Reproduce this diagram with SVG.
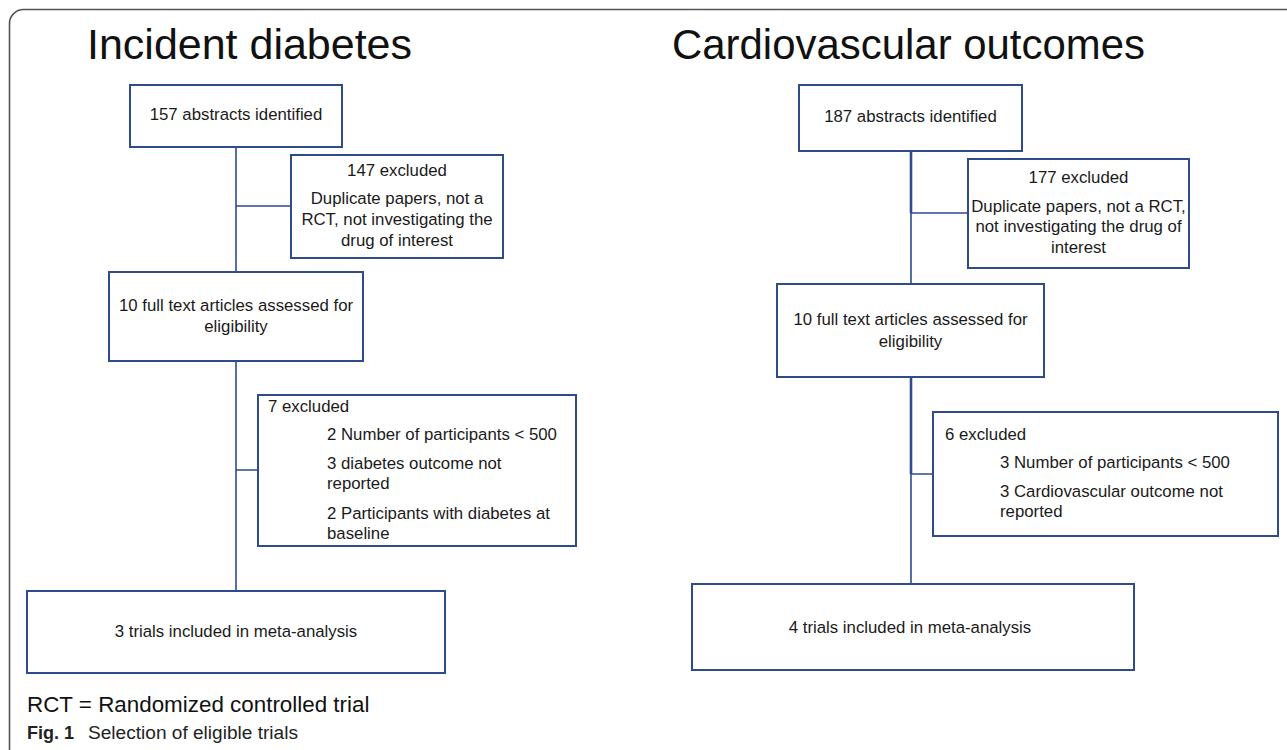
<svg xmlns="http://www.w3.org/2000/svg" width="1287" height="750" viewBox="0 0 1287 750">
<style>
.box{fill:#fff;stroke:#2F4B8C;stroke-width:2}
.ln{fill:none;stroke:#2F4B8C;stroke-width:1.6}
.thk{stroke-width:2.6}
.t{font-family:"Liberation Sans",Arial,sans-serif;font-size:16.8px;fill:#1a1a1a}
.c{text-anchor:middle}
.title{font-family:"Liberation Sans",Arial,sans-serif;font-size:43px;fill:#111}
</style>
<rect x="0" y="0" width="1287" height="750" fill="#fff"/>
<rect x="9.5" y="9.5" width="1300" height="780" rx="14" fill="none" stroke="#555" stroke-width="1.6"/>
<text class="title" x="87" y="59" textLength="325" lengthAdjust="spacingAndGlyphs">Incident diabetes</text>
<text class="title" x="672" y="59" textLength="473" lengthAdjust="spacingAndGlyphs">Cardiovascular outcomes</text>
<g id="connectors">
<path class="ln" d="M236 147V591M236 206H291M236 470H258"/>
<path class="ln thk" d="M911 151V213M911 377V474"/>
<path class="ln" d="M911 213V284M911 474V584M911 213H968M911 474H933"/>
</g>
<g id="l-abstracts">
<rect class="box" x="130" y="85" width="212" height="62"/>
<text class="t c" x="236" y="120">157 abstracts identified</text>
</g>
<g id="l-excluded1">
<rect class="box" x="291" y="155" width="212" height="103"/>
<text class="t c" x="397" y="176">147 excluded</text>
<text class="t c" x="397" y="204">Duplicate papers, not a</text>
<text class="t c" x="397" y="225">RCT, not investigating the</text>
<text class="t c" x="397" y="246">drug of interest</text>
</g>
<g id="l-fulltext">
<rect class="box" x="109" y="272" width="254" height="89"/>
<text class="t c" x="236" y="311">10 full text articles assessed for</text>
<text class="t c" x="236" y="332">eligibility</text>
</g>
<g id="l-excluded2">
<rect class="box" x="258" y="395" width="318" height="151"/>
<text class="t" x="268" y="412">7 excluded</text>
<text class="t" x="327" y="440">2 Number of participants &lt; 500</text>
<text class="t" x="327" y="469">3 diabetes outcome  not</text>
<text class="t" x="327" y="489">reported</text>
<text class="t" x="327" y="519">2 Participants with diabetes at</text>
<text class="t" x="327" y="539">baseline</text>
</g>
<g id="l-included">
<rect class="box" x="27" y="591" width="418" height="82"/>
<text class="t c" x="236" y="637">3 trials included in meta-analysis</text>
</g>
<g id="r-abstracts">
<rect class="box" x="799" y="85" width="223" height="66"/>
<text class="t c" x="910.5" y="122">187 abstracts identified</text>
</g>
<g id="r-excluded1">
<rect class="box" x="968" y="159" width="221" height="109"/>
<text class="t c" x="1078.5" y="183">177 excluded</text>
<text class="t c" x="1078.5" y="212">Duplicate papers, not a RCT,</text>
<text class="t c" x="1078.5" y="232">not investigating the drug of</text>
<text class="t c" x="1078.5" y="253">interest</text>
</g>
<g id="r-fulltext">
<rect class="box" x="777" y="284" width="267" height="93"/>
<text class="t c" x="910.5" y="325">10 full text articles assessed for</text>
<text class="t c" x="910.5" y="347">eligibility</text>
</g>
<g id="r-excluded2">
<rect class="box" x="933" y="412" width="345" height="124"/>
<text class="t" x="945" y="440">6 excluded</text>
<text class="t" x="1000" y="468">3 Number of participants &lt; 500</text>
<text class="t" x="1000" y="497">3 Cardiovascular outcome not</text>
<text class="t" x="1000" y="517">reported</text>
</g>
<g id="r-included">
<rect class="box" x="692" y="584" width="442" height="86"/>
<text class="t c" x="910" y="633">4 trials included in meta-analysis</text>
</g>
<text x="27" y="712" font-family="Liberation Sans,Arial,sans-serif" font-size="22.4" fill="#111">RCT = Randomized controlled trial</text>
<text x="27" y="739" font-family="Liberation Sans,Arial,sans-serif" font-size="18" fill="#222"><tspan font-weight="bold" textLength="47" lengthAdjust="spacingAndGlyphs">Fig. 1</tspan><tspan x="88" textLength="210" lengthAdjust="spacingAndGlyphs">Selection of eligible trials</tspan></text>
</svg>
